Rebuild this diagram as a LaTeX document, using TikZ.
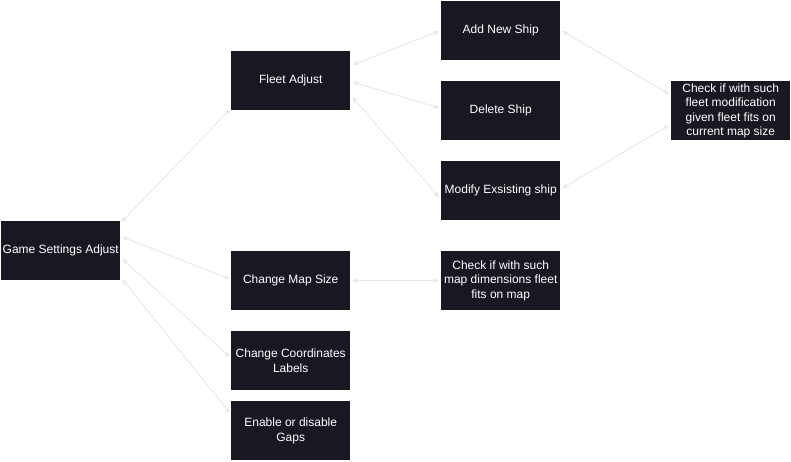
\documentclass[tikz,border=0pt]{standalone}
\usepackage{fontspec}
\setmainfont{Liberation Sans}
\usetikzlibrary{arrows.meta}
\definecolor{boxfill}{RGB}{25,23,33}
\definecolor{linkcol}{RGB}{232,232,232}
\begin{document}
\begin{tikzpicture}[x=1pt,y=-1pt,
  box/.style={fill=boxfill,draw=none,minimum width=119pt,minimum height=59pt,inner sep=1pt,
    text=white,align=center,font=\fontsize{12}{14.5}\selectfont,anchor=north west},
  link/.style={draw=linkcol,line width=0.9pt,{Stealth[length=6pt,width=5pt]}-{Stealth[length=6pt,width=5pt]}}]
\useasboundingbox[fill=white] (0,0) rectangle (791,461);
\node[box] (gsa) at (1,221) {Game Settings Adjust};
\node[box] (fleet) at (231,51) {Fleet Adjust};
\node[box] (add) at (441,1) {Add New Ship};
\node[box] (del) at (441,81) {Delete Ship};
\node[box] (mod) at (441,161) {Modify Exsisting ship};
\node[box] (chkf) at (671,81) {Check if with such\\fleet modification\\given fleet fits on\\current map size};
\node[box] (map) at (231,251) {Change Map Size};
\node[box] (chkm) at (441,251) {Check if with such\\map dimensions fleet\\fits on map};
\node[box] (coord) at (231,331) {Change Coordinates\\Labels};
\node[box] (gaps) at (231,401) {Enable or disable\\Gaps};
% connectors
\draw[link] ([shift={(1,1)}]gsa.north east) -- ([shift={(-1,-1)}]fleet.south west);
\draw[link] ([shift={(2,16)}]gsa.north east) -- ([shift={(-1,28)}]map.north west);
\draw[link] ([shift={(2,38)}]gsa.north east) -- ([shift={(-1,26)}]coord.north west);
\draw[link] ([shift={(2,-1)}]gsa.south east) -- ([shift={(-1,12)}]gaps.north west);
\draw[link] ([shift={(2,14)}]fleet.north east) -- ([shift={(-2,30)}]add.north west);
\draw[link] ([shift={(2,31)}]fleet.north east) -- ([shift={(-2,27)}]del.north west);
\draw[link] ([shift={(2,46)}]fleet.north east) -- ([shift={(-2,36)}]mod.north west);
\draw[link] ([shift={(2,30)}]add.north east) -- ([shift={(-2,13)}]chkf.north west);
\draw[link] ([shift={(2,27)}]mod.north east) -- ([shift={(-2,-15)}]chkf.south west);
\draw[link] ([shift={(2,0)}]map.east) -- ([shift={(-2,0)}]chkm.west);
\end{tikzpicture}
\end{document}
